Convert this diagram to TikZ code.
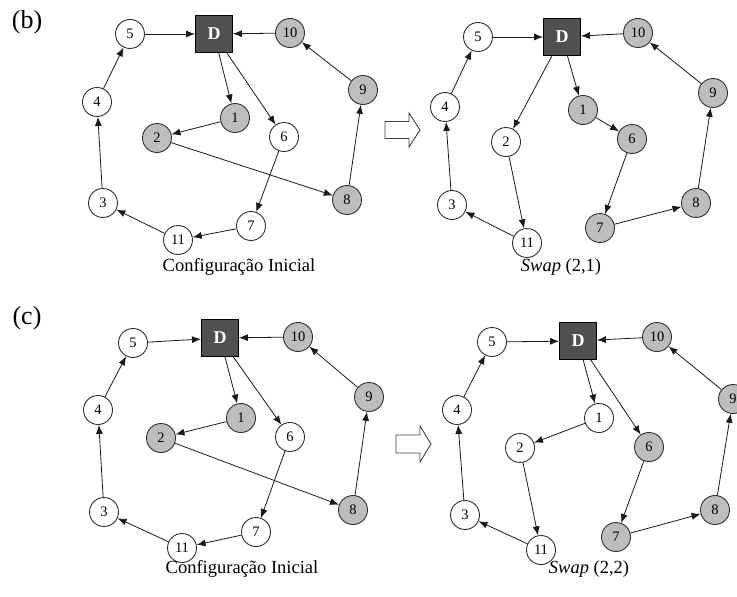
\documentclass[tikz,border=0pt]{standalone}
\usepackage{fontspec}
\setmainfont{Liberation Serif}
\usetikzlibrary{arrows.meta}
\definecolor{nodegray}{HTML}{BDBDBD}
\definecolor{depot}{HTML}{505050}
\definecolor{rim}{HTML}{303030}
\tikzset{
  wn/.style={circle, draw=rim, line width=0.9pt, fill=white, minimum size=29pt,
             inner sep=0pt, font=\fontsize{14.5}{14.5}\selectfont},
  gn/.style={wn, fill=nodegray},
  dep/.style={rectangle, draw=black, line width=0.9pt, fill=depot, minimum size=37pt,
              inner sep=0pt, text=white, font=\fontsize{18}{18}\selectfont\bfseries},
  link/.style={-{Latex[length=9pt,width=7pt]}, line width=0.8pt, draw=black!90},
  captext/.style={font=\fontsize{18.5}{18.5}\selectfont},
  panel/.style={font=\fontsize{26}{26}\selectfont},
  bigarrow/.style={draw=black!75, line width=0.9pt, fill=white}
}
\begin{document}
\begin{tikzpicture}[x=1pt,y=-1pt]
\useasboundingbox (0,0) rectangle (737,597);

% ---------------- (b) initial configuration ----------------
\node[panel] (lb) at (27,22) {(b)};
\node[wn]  (b5)  at (130,34)  {5};
\node[dep] (bD)  at (214,34)  {D};
\node[gn]  (b10) at (290,33)  {10};
\node[gn]  (b9)  at (363,90)  {9};
\node[wn]  (b4)  at (97,102)  {4};
\node[gn]  (b1)  at (235,118) {1};
\node[gn]  (b2)  at (157,138) {2};
\node[wn]  (b6)  at (284,137) {6};
\node[wn]  (b3)  at (103,203) {3};
\node[gn]  (b8)  at (347,200) {8};
\node[wn]  (b7)  at (251,226) {7};
\node[wn]  (b11) at (178,240) {11};
\node[captext] (bc)  at (239,267) {Configuração Inicial};
\draw[link] (b5) -- (bD);
\draw[link] (b10) -- (bD);
\draw[link] (bD) -- (b1);
\draw[link] (bD) -- (b6);
\draw[link] (b1) -- (b2);
\draw[link] (b2) -- (b8);
\draw[link] (b6) -- (b7);
\draw[link] (b7) -- (b11);
\draw[link] (b11) -- (b3);
\draw[link] (b3) -- (b4);
\draw[link] (b4) -- (b5);
\draw[link] (b8) -- (b9);
\draw[link] (b9) -- (b10);

% transition arrow
\draw[bigarrow] (385,121.5) -- (409,121.5) -- (409,113) -- (420,130)
  -- (409,147) -- (409,138.5) -- (385,138.5) -- cycle;

% ---------------- (b) after Swap (2,1) ----------------
\node[wn]  (s5)  at (478,37)  {5};
\node[dep] (sD)  at (562,37)  {D};
\node[gn]  (s10) at (638,33)  {10};
\node[gn]  (s9)  at (713,93)  {9};
\node[wn]  (s4)  at (445,107) {4};
\node[gn]  (s1)  at (583,110) {1};
\node[wn]  (s2)  at (506,142) {2};
\node[gn]  (s6)  at (632,139) {6};
\node[wn]  (s3)  at (452,205) {3};
\node[gn]  (s8)  at (696,203) {8};
\node[gn]  (s7)  at (600,228) {7};
\node[wn]  (s11) at (527,243) {11};
\node[captext] (sc)  at (561,267) {\textit{Swap} (2,1)};
\draw[link] (s5) -- (sD);
\draw[link] (s10) -- (sD);
\draw[link] (sD) -- (s2);
\draw[link] (sD) -- (s1);
\draw[link] (s1) -- (s6);
\draw[link] (s6) -- (s7);
\draw[link] (s7) -- (s8);
\draw[link] (s8) -- (s9);
\draw[link] (s9) -- (s10);
\draw[link] (s2) -- (s11);
\draw[link] (s11) -- (s3);
\draw[link] (s3) -- (s4);
\draw[link] (s4) -- (s5);

% ---------------- (c) initial configuration ----------------
\node[panel] (lc) at (27,318) {(c)};
\node[wn]  (c5)  at (133,343) {5};
\node[dep] (cD)  at (220,338) {D};
\node[gn]  (c10) at (298,337) {10};
\node[gn]  (c9)  at (369,397) {9};
\node[wn]  (c4)  at (98,410)  {4};
\node[gn]  (c1)  at (241,418) {1};
\node[gn]  (c2)  at (161,438) {2};
\node[wn]  (c6)  at (290,437) {6};
\node[wn]  (c3)  at (104,512) {3};
\node[gn]  (c8)  at (353,510) {8};
\node[wn]  (c7)  at (256,532) {7};
\node[wn]  (c11) at (182,548) {11};
\node[captext] (cc)  at (242,569) {Configuração Inicial};
\draw[link] (c5) -- (cD);
\draw[link] (c10) -- (cD);
\draw[link] (cD) -- (c1);
\draw[link] (cD) -- (c6);
\draw[link] (c1) -- (c2);
\draw[link] (c2) -- (c8);
\draw[link] (c6) -- (c7);
\draw[link] (c7) -- (c11);
\draw[link] (c11) -- (c3);
\draw[link] (c3) -- (c4);
\draw[link] (c4) -- (c5);
\draw[link] (c8) -- (c9);
\draw[link] (c9) -- (c10);

% transition arrow
\draw[bigarrow] (396,435) -- (420,435) -- (420,426) -- (431,444)
  -- (420,462) -- (420,453) -- (396,453) -- cycle;

% ---------------- (c) after Swap (2,2) ----------------
\node[wn]  (t5)  at (492,342) {5};
\node[dep] (tD)  at (578,341) {D};
\node[gn]  (t10) at (657,337) {10};
\node[gn]  (t9)  at (733,399) {9};
\node[wn]  (t4)  at (457,410) {4};
\node[wn]  (t1)  at (599,418) {1};
\node[wn]  (t2)  at (520,448) {2};
\node[gn]  (t6)  at (649,447) {6};
\node[wn]  (t3)  at (465,515) {3};
\node[gn]  (t8)  at (715,510) {8};
\node[gn]  (t7)  at (616,537) {7};
\node[wn]  (t11) at (541,550) {11};
\node[captext] (tc)  at (589,569) {\textit{Swap} (2,2)};
\draw[link] (t5) -- (tD);
\draw[link] (t10) -- (tD);
\draw[link] (tD) -- (t1);
\draw[link] (tD) -- (t6);
\draw[link] (t1) -- (t2);
\draw[link] (t2) -- (t11);
\draw[link] (t11) -- (t3);
\draw[link] (t3) -- (t4);
\draw[link] (t4) -- (t5);
\draw[link] (t6) -- (t7);
\draw[link] (t7) -- (t8);
\draw[link] (t8) -- (t9);
\draw[link] (t9) -- (t10);
\end{tikzpicture}
\end{document}
